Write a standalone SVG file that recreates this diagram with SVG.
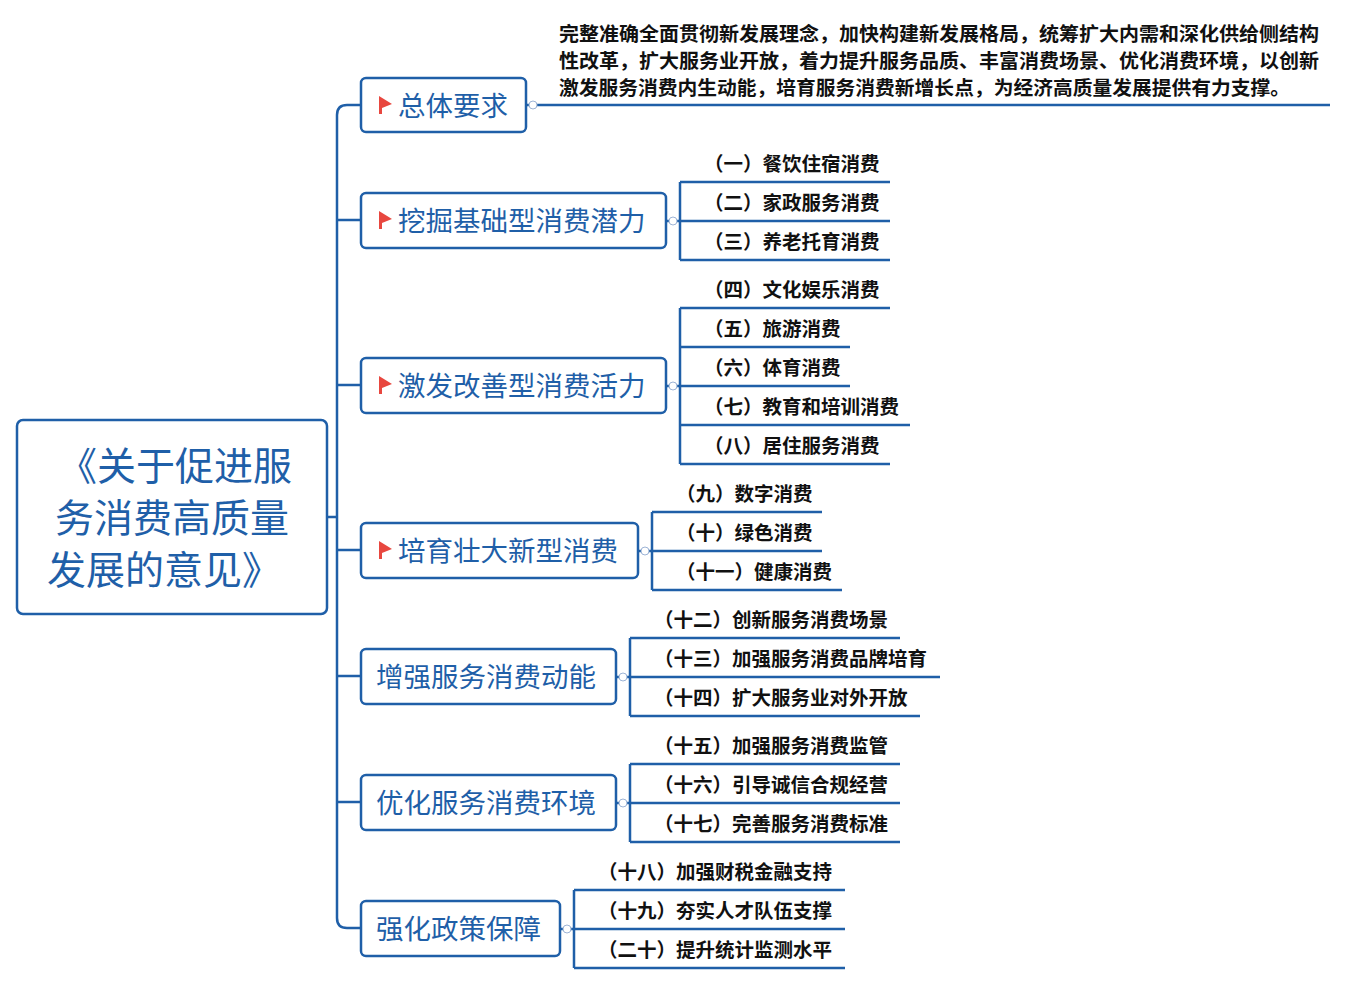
<svg xmlns="http://www.w3.org/2000/svg" width="1348" height="984" viewBox="0 0 1348 984">
<style>
.box{fill:#fff;stroke:#1f5fa8;stroke-width:2.5}
.nt{font-family:"Noto Sans CJK SC",sans-serif;font-size:27.5px;fill:#1f5fa8}
.rt{font-family:"Noto Sans CJK SC",sans-serif;font-size:39px;fill:#1f5fa8;text-anchor:middle}
.lt{font-family:"Noto Sans CJK SC",sans-serif;font-size:19.5px;font-weight:bold;fill:#111}
.ln{fill:none;stroke:#1f5fa8;stroke-width:2.5}
.dot{fill:#fff;stroke:#9db4d6;stroke-width:1}
.flag{fill:#e8473f}
</style>
<rect width="1348" height="984" fill="#fff"/>
<g id="connectors">
<path class="ln" d="M327 517 H337 M361 105 H347 Q337 105 337 115 V918 Q337 928 347 928 H361 M337 220 H361 M337 385 H361 M337 550 H361 M337 676 H361 M337 802 H361"/>
<path class="ln" d="M526 105 H1330"/>
<path class="ln" d="M666 221 H680 M680 182 V260 M680 182 H890 M680 221 H890 M680 260 H890"/>
<path class="ln" d="M666 386 H680 M680 308 V464 M680 308 H890 M680 347 H850 M680 386 H850 M680 425 H910 M680 464 H890"/>
<path class="ln" d="M638 551 H652 M652 512 V590 M652 512 H822 M652 551 H822 M652 590 H842"/>
<path class="ln" d="M616 677 H630 M630 638 V716 M630 638 H900 M630 677 H940 M630 716 H920"/>
<path class="ln" d="M616 803 H630 M630 764 V842 M630 764 H900 M630 803 H900 M630 842 H900"/>
<path class="ln" d="M560 929 H574 M574 890 V968 M574 890 H845 M574 929 H845 M574 968 H845"/>
<circle class="dot" cx="533" cy="105" r="4"/><circle class="dot" cx="673" cy="221" r="4"/><circle class="dot" cx="673" cy="386" r="4"/><circle class="dot" cx="645" cy="551" r="4"/><circle class="dot" cx="623" cy="677" r="4"/><circle class="dot" cx="623" cy="803" r="4"/><circle class="dot" cx="567" cy="929" r="4"/>
</g>
<g id="root"><rect class="box" x="17" y="420" width="310" height="194" rx="6"/>
<text class="rt" x="175" y="480">《关于促进服</text><text class="rt" x="172" y="532">务消费高质量</text><text class="rt" x="164" y="584">发展的意见》</text></g>
<g id="n1"><rect class="box" x="361" y="78" width="165" height="54" rx="5"/><path class="flag" d="M379 96 L392 104 L382 108 V114 H379Z"/><text class="nt" x="398" y="116">总体要求</text></g>
<g id="n2"><rect class="box" x="361" y="193" width="305" height="55" rx="5"/><path class="flag" d="M379 211 L392 219 L382 223 V229 H379Z"/><text class="nt" x="398" y="231">挖掘基础型消费潜力</text></g>
<g id="n3"><rect class="box" x="361" y="358" width="305" height="55" rx="5"/><path class="flag" d="M379 376 L392 384 L382 388 V394 H379Z"/><text class="nt" x="398" y="396">激发改善型消费活力</text></g>
<g id="n4"><rect class="box" x="361" y="523" width="277" height="55" rx="5"/><path class="flag" d="M379 541 L392 549 L382 553 V559 H379Z"/><text class="nt" x="398" y="561">培育壮大新型消费</text></g>
<g id="n5"><rect class="box" x="361" y="649" width="255" height="55" rx="5"/><text class="nt" x="376" y="687">增强服务消费动能</text></g>
<g id="n6"><rect class="box" x="361" y="775" width="255" height="55" rx="5"/><text class="nt" x="376" y="813">优化服务消费环境</text></g>
<g id="n7"><rect class="box" x="361" y="901" width="199" height="55" rx="5"/><text class="nt" x="376" y="939">强化政策保障</text></g>
<g id="top-text">
<text class="lt" x="559" y="41" textLength="760" lengthAdjust="spacingAndGlyphs">完整准确全面贯彻新发展理念，加快构建新发展格局，统筹扩大内需和深化供给侧结构</text>
<text class="lt" x="559" y="68" textLength="760" lengthAdjust="spacingAndGlyphs">性改革，扩大服务业开放，着力提升服务品质、丰富消费场景、优化消费环境，以创新</text>
<text class="lt" x="559" y="95" textLength="731" lengthAdjust="spacingAndGlyphs">激发服务消费内生动能，培育服务消费新增长点，为经济高质量发展提供有力支撑。</text>
</g>
<g id="leaves">
<text class="lt" x="704" y="171">（一）餐饮住宿消费</text>
<text class="lt" x="704" y="210">（二）家政服务消费</text>
<text class="lt" x="704" y="249">（三）养老托育消费</text>
<text class="lt" x="704" y="297">（四）文化娱乐消费</text>
<text class="lt" x="704" y="336">（五）旅游消费</text>
<text class="lt" x="704" y="375">（六）体育消费</text>
<text class="lt" x="704" y="414">（七）教育和培训消费</text>
<text class="lt" x="704" y="453">（八）居住服务消费</text>
<text class="lt" x="676" y="501">（九）数字消费</text>
<text class="lt" x="676" y="540">（十）绿色消费</text>
<text class="lt" x="676" y="579">（十一）健康消费</text>
<text class="lt" x="654" y="627">（十二）创新服务消费场景</text>
<text class="lt" x="654" y="666">（十三）加强服务消费品牌培育</text>
<text class="lt" x="654" y="705">（十四）扩大服务业对外开放</text>
<text class="lt" x="654" y="753">（十五）加强服务消费监管</text>
<text class="lt" x="654" y="792">（十六）引导诚信合规经营</text>
<text class="lt" x="654" y="831">（十七）完善服务消费标准</text>
<text class="lt" x="598" y="879">（十八）加强财税金融支持</text>
<text class="lt" x="598" y="918">（十九）夯实人才队伍支撑</text>
<text class="lt" x="598" y="957">（二十）提升统计监测水平</text>
</g>
</svg>
